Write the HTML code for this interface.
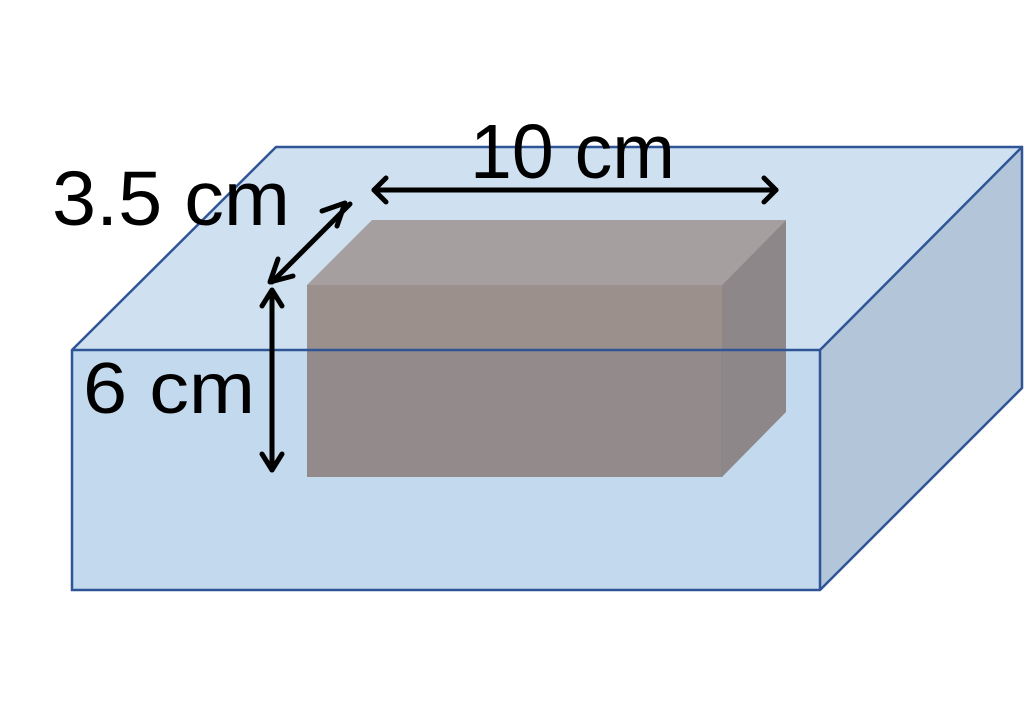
<!DOCTYPE html>
<html><head><meta charset="utf-8"><style>
html,body{margin:0;padding:0;background:#fff;}
svg{display:block;}
text{font-family:"Liberation Sans",sans-serif;fill:#000;}
</style></head><body>
<svg width="1024" height="718" viewBox="0 0 1024 718" xmlns="http://www.w3.org/2000/svg">
<!-- outer box -->
<polygon points="72,350 276,147 1022,147 820,350" fill="#cfe1f1"/>
<polygon points="820,350 1022,147 1022,388 820,590" fill="#b3c5d9"/>
<rect x="72" y="350" width="748" height="240" fill="#c3d9ee"/>
<!-- inner brick -->
<polygon points="307,285 372,220 786,220 722,285" fill="#a59f9f"/>
<polygon points="722,285 786,220 786,412 722,477" fill="#8d8789"/>
<rect x="307" y="285" width="415" height="65" fill="#9b908b"/>
<rect x="307" y="350" width="415" height="127" fill="#928a8b"/>
<line x1="722" y1="350" x2="722" y2="477" stroke="#8a8488" stroke-width="1"/>
<!-- outer edges -->
<g fill="none" stroke="#2f5597" stroke-width="2.5">
<polygon points="72,350 276,147 1022,147 1022,388 820,590 72,590"/>
<line x1="72" y1="350" x2="820" y2="350"/>
<line x1="820" y1="350" x2="1022" y2="147"/>
<line x1="820" y1="350" x2="820" y2="590"/>
</g>
<!-- arrows -->
<g stroke="#000" stroke-width="5" fill="none" stroke-linecap="round" stroke-linejoin="round">
<line x1="374" y1="190" x2="776" y2="190"/>
<polyline points="386,178 374,190 386,202"/>
<polyline points="764,178 776,190 764,202"/>
<line x1="350" y1="204" x2="272" y2="282"/>
<polyline points="322,211 345,203 337,226"/>
<polyline points="278,259 270,282 293,276"/>
<line x1="272" y1="292" x2="272" y2="470"/>
<polyline points="262,306 272,290 282,306"/>
<polyline points="262,454 272,470 282,454"/>
</g>
<text x="470" y="178" font-size="77" textLength="205" lengthAdjust="spacingAndGlyphs">10 cm</text>
<text x="52" y="225" font-size="77" textLength="238" lengthAdjust="spacingAndGlyphs">3.5 cm</text>
<text x="83" y="413" font-size="72" textLength="172" lengthAdjust="spacingAndGlyphs">6 cm</text>
</svg>
</body></html>
